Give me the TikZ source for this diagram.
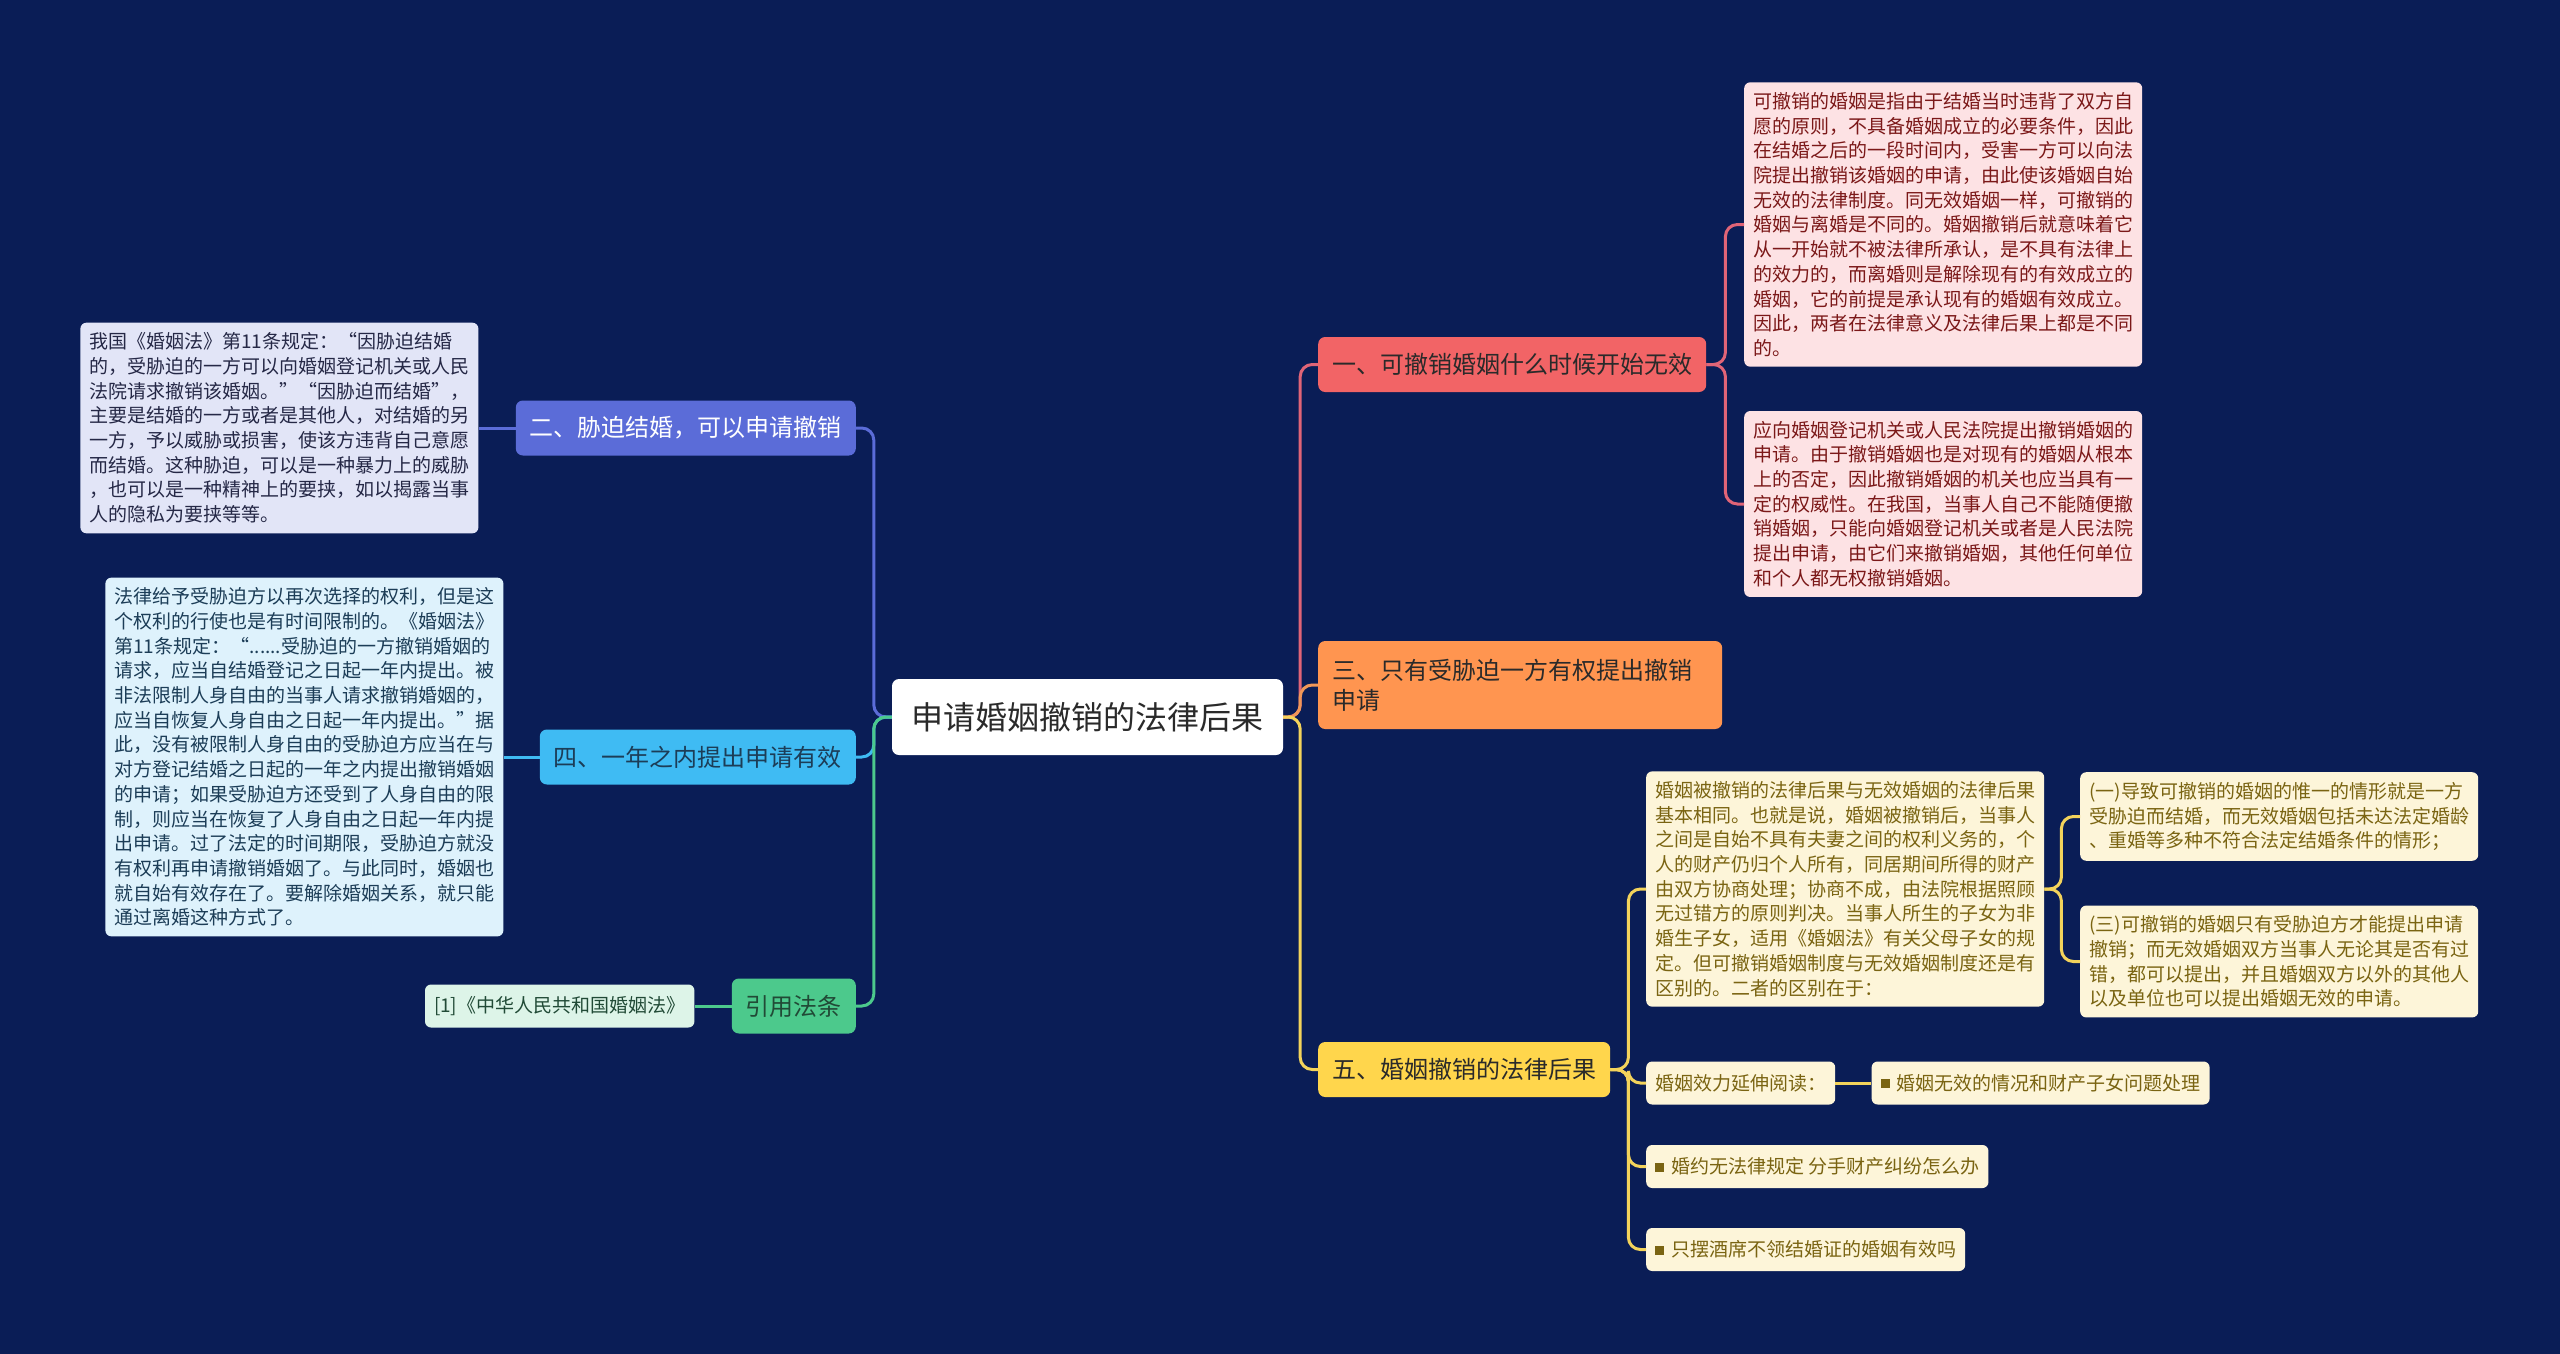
\documentclass[tikz,border=0pt]{standalone}
\usepackage{fontspec}
\setmainfont{Noto Sans CJK SC}
\usetikzlibrary{positioning}

\definecolor{navy}{HTML}{0A1D56}
\definecolor{redbox}{HTML}{F26466}
\definecolor{redline}{HTML}{E06477}
\definecolor{redfill}{HTML}{FDE2E4}
\definecolor{redtext}{HTML}{7B1818}
\definecolor{orangebox}{HTML}{FF9550}
\definecolor{orangeline}{HTML}{F09758}
\definecolor{yellowbox}{HTML}{FFD64C}
\definecolor{yellowline}{HTML}{F3D35B}
\definecolor{yellowfill}{HTML}{FDF5D9}
\definecolor{yellowtext}{HTML}{7A6412}
\definecolor{purplebox}{HTML}{5B6CD8}
\definecolor{purplefill}{HTML}{E2E5F7}
\definecolor{purpletext}{HTML}{252846}
\definecolor{bluebox}{HTML}{3FBBF3}
\definecolor{bluefill}{HTML}{DEF2FC}
\definecolor{bluetext}{HTML}{1C3D57}
\definecolor{greenbox}{HTML}{4CC98C}
\definecolor{greenfill}{HTML}{DDF4E8}
\definecolor{greentext}{HTML}{214A36}
\definecolor{darktext}{HTML}{2A2A2A}

\newcommand{\sqbullet}{\rule[2pt]{9pt}{9pt}\hspace{7pt}}

\begin{document}
\begin{tikzpicture}[
		x=1pt, y=-1pt,
		% Define styles
		root/.style={rectangle, rounded corners=7pt, fill=white, text=darktext, font=\fontsize{32}{38}\selectfont, minimum width=391pt, minimum height=76pt},
		topic/.style={rectangle, rounded corners=7pt, font=\fontsize{24}{30}\selectfont, inner xsep=14pt, minimum height=55pt, align=left},
		detail/.style={rectangle, rounded corners=6pt, font=\fontsize{19}{24.7}\selectfont, text width=380pt, inner xsep=9pt, inner ysep=10pt, align=left},
		leaf/.style={rectangle, rounded corners=6pt, font=\fontsize{19}{24}\selectfont, inner xsep=9pt, minimum height=43pt},
		link/.style={line width=3pt, rounded corners=12pt}
		]
		
		% Background
		\fill[navy] (0,0) rectangle (2560,1354);
		
		% Root node
		\node (root) [root] at (1087.5,717) {申请婚姻撤销的法律后果};
		
		% Right branches
		\node (t1) [topic, fill=redbox, text=darktext, anchor=west] at (1318,364.5) {一、可撤销婚姻什么时候开始无效};
		\node (t3) [topic, fill=orangebox, text=darktext, anchor=west, text width=376pt, minimum height=88pt] at (1318,685) {三、只有受胁迫一方有权提出撤销\\申请};
		\node (t5) [topic, fill=yellowbox, text=darktext, anchor=west] at (1318,1069.5) {五、婚姻撤销的法律后果};
		
		% Left branches
		\node (t2) [topic, fill=purplebox, text=white, anchor=east] at (856,428) {二、胁迫结婚，可以申请撤销};
		\node (t4) [topic, fill=bluebox, text=bluetext, anchor=east] at (856,757) {四、一年之内提出申请有效};
		\node (tref) [topic, fill=greenbox, text=greentext, anchor=east] at (856,1006) {引用法条};
		
		% Details of branch one
		\node (d1a) [detail, fill=redfill, text=redtext, anchor=west] at (1744,224.5) {可撤销的婚姻是指由于结婚当时违背了双方自\\愿的原则，不具备婚姻成立的必要条件，因此\\在结婚之后的一段时间内，受害一方可以向法\\院提出撤销该婚姻的申请，由此使该婚姻自始\\无效的法律制度。同无效婚姻一样，可撤销的\\婚姻与离婚是不同的。婚姻撤销后就意味着它\\从一开始就不被法律所承认，是不具有法律上\\的效力的，而离婚则是解除现有的有效成立的\\婚姻，它的前提是承认现有的婚姻有效成立。\\因此，两者在法律意义及法律后果上都是不同\\的。};
		\node (d1b) [detail, fill=redfill, text=redtext, anchor=west] at (1744,504) {应向婚姻登记机关或人民法院提出撤销婚姻的\\申请。由于撤销婚姻也是对现有的婚姻从根本\\上的否定，因此撤销婚姻的机关也应当具有一\\定的权威性。在我国，当事人自己不能随便撤\\销婚姻，只能向婚姻登记机关或者是人民法院\\提出申请，由它们来撤销婚姻，其他任何单位\\和个人都无权撤销婚姻。};
		
		% Details of branch five
		\node (d5) [detail, fill=yellowfill, text=yellowtext, anchor=west] at (1646,889) {婚姻被撤销的法律后果与无效婚姻的法律后果\\基本相同。也就是说，婚姻被撤销后，当事人\\之间是自始不具有夫妻之间的权利义务的，个\\人的财产仍归个人所有，同居期间所得的财产\\由双方协商处理；协商不成，由法院根据照顾\\无过错方的原则判决。当事人所生的子女为非\\婚生子女，适用《婚姻法》有关父母子女的规\\定。但可撤销婚姻制度与无效婚姻制度还是有\\区别的。二者的区别在于：};
		\node (d5a) [detail, fill=yellowfill, text=yellowtext, anchor=west] at (2080,816.5) {(一)导致可撤销的婚姻的惟一的情形就是一方\\受胁迫而结婚，而无效婚姻包括未达法定婚龄\\、重婚等多种不符合法定结婚条件的情形；};
		\node (d5b) [detail, fill=yellowfill, text=yellowtext, anchor=west] at (2080,961.5) {(三)可撤销的婚姻只有受胁迫方才能提出申请\\撤销；而无效婚姻双方当事人无论其是否有过\\错，都可以提出，并且婚姻双方以外的其他人\\以及单位也可以提出婚姻无效的申请。};
		\node (r1) [leaf, fill=yellowfill, text=yellowtext, anchor=west] at (1646,1083) {婚姻效力延伸阅读：};
		\node (r1x) [leaf, fill=yellowfill, text=yellowtext, right=36pt of r1] {\sqbullet 婚姻无效的情况和财产子女问题处理};
		\node (r2) [leaf, fill=yellowfill, text=yellowtext, anchor=west] at (1646,1166.5) {\sqbullet 婚约无法律规定 分手财产纠纷怎么办};
		\node (r3) [leaf, fill=yellowfill, text=yellowtext, anchor=west] at (1646,1249.5) {\sqbullet 只摆酒席不领结婚证的婚姻有效吗};
		
		% Details of the left branches
		\node (d2) [detail, fill=purplefill, text=purpletext, left=37pt of t2] {我国《婚姻法》第11条规定：“因胁迫结婚\\的，受胁迫的一方可以向婚姻登记机关或人民\\法院请求撤销该婚姻。”“因胁迫而结婚”，\\主要是结婚的一方或者是其他人，对结婚的另\\一方，予以威胁或损害，使该方违背自己意愿\\而结婚。这种胁迫，可以是一种暴力上的威胁\\，也可以是一种精神上的要挟，如以揭露当事\\人的隐私为要挟等等。};
		\node (d4) [detail, fill=bluefill, text=bluetext, left=36pt of t4] {法律给予受胁迫方以再次选择的权利，但是这\\个权利的行使也是有时间限制的。《婚姻法》\\第11条规定：“......受胁迫的一方撤销婚姻的\\请求，应当自结婚登记之日起一年内提出。被\\非法限制人身自由的当事人请求撤销婚姻的，\\应当自恢复人身自由之日起一年内提出。”据\\此，没有被限制人身自由的受胁迫方应当在与\\对方登记结婚之日起的一年之内提出撤销婚姻\\的申请；如果受胁迫方还受到了人身自由的限\\制，则应当在恢复了人身自由之日起一年内提\\出申请。过了法定的时间期限，受胁迫方就没\\有权利再申请撤销婚姻了。与此同时，婚姻也\\就自始有效存在了。要解除婚姻关系，就只能\\通过离婚这种方式了。};
		\node (ref1) [leaf, fill=greenfill, text=greentext, left=37pt of tref] {[1]《中华人民共和国婚姻法》};
		
		% Draw connectors
		\draw [link, draw=redline] (root.east) -- ++(17,0) |- (t1.west);
		\draw [link, draw=orangeline] (root.east) -- ++(17,0) |- (t3.west);
		\draw [link, draw=yellowline] (root.east) -- ++(17,0) |- (t5.west);
		\draw [link, draw=purplebox] (root.west) -- ++(-18,0) |- (t2.east);
		\draw [link, draw=bluebox] (root.west) -- ++(-18,0) |- (t4.east);
		\draw [link, draw=greenbox] (root.west) -- ++(-18,0) |- (tref.east);
		
		\draw [link, draw=redline] (t1.east) -- ++(19,0) |- (d1a.west);
		\draw [link, draw=redline] (t1.east) -- ++(19,0) |- (d1b.west);
		\draw [link, draw=yellowline] (t5.east) -- ++(18,0) |- (d5.west);
		\draw [link, draw=yellowline] (t5.east) -- ++(18,0) |- (r1.west);
		\draw [link, draw=yellowline] (t5.east) -- ++(18,0) |- (r2.west);
		\draw [link, draw=yellowline] (t5.east) -- ++(18,0) |- (r3.west);
		\draw [link, draw=yellowline] (d5.east) -- ++(17,0) |- (d5a.west);
		\draw [link, draw=yellowline] (d5.east) -- ++(17,0) |- (d5b.west);
		\draw [link, draw=yellowline] (r1) -- (r1x);
		\draw [link, draw=purplebox] (t2) -- (d2);
		\draw [link, draw=bluebox] (t4) -- (d4);
		\draw [link, draw=greenbox] (tref) -- (ref1);
		
	\end{tikzpicture}
\end{document}
